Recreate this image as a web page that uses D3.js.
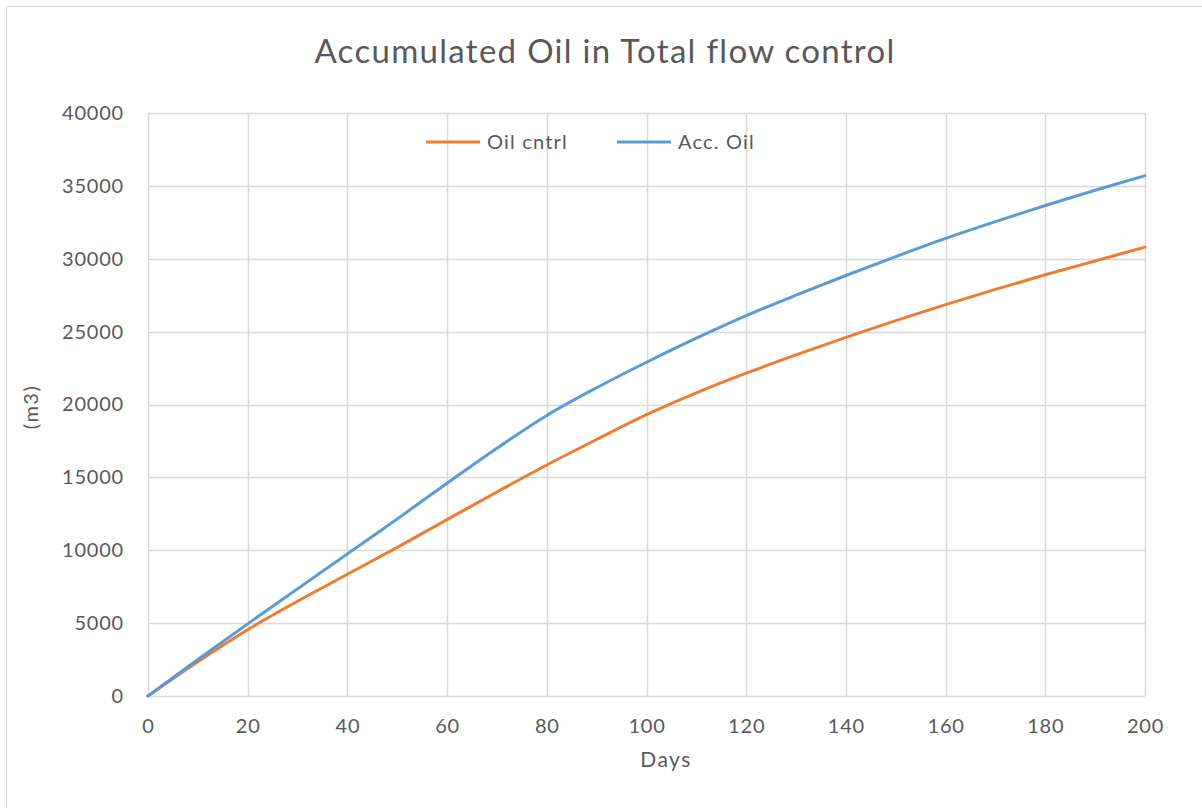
<!DOCTYPE html>
<html>
<head>
<meta charset="utf-8">
<script src="https://cdn.jsdelivr.net/npm/d3@7"></script>
<style>
  body { margin: 0; background: #fff; }
  text { font-family: Lato, "Open Sans", sans-serif; fill: #595959; }
</style>
</head>
<body>
<script>
var days = [0, 10, 20, 30, 40, 50, 60, 70, 80, 90, 100, 110, 120, 130, 140, 150, 160, 170, 180, 190, 200];

var oilCntrl = [0, 2350, 4550, 6500, 8350, 10200, 12100, 14000, 15850, 17600, 19300,
    20800, 22150, 23400, 24600, 25750, 26850, 27900, 28900, 29850, 30800];

var accOil = [0, 2500, 4950, 7350, 9750, 12150, 14600, 17000, 19250, 21150, 22900,
    24550, 26100, 27500, 28850, 30150, 31400, 32550, 33650, 34700, 35700];

var xTicks = [0, 20, 40, 60, 80, 100, 120, 140, 160, 180, 200];
var yTicks = [0, 5000, 10000, 15000, 20000, 25000, 30000, 35000, 40000];

var series = [
    {name: "Oil cntrl", values: oilCntrl, color: "#ED7D31"},
    {name: "Acc. Oil", values: accOil, color: "#5B9BD5"}
];

var margin = {top: 113, right: 57, bottom: 112, left: 148},
    width = 1202 - margin.left - margin.right,
    height = 808 - margin.top - margin.bottom;

var svg = d3.select("body").append("svg")
    .attr("width", 1202)
    .attr("height", 808);

// outer chart border
svg.append("rect")
    .attr("x", 6.5)
    .attr("y", 6.5)
    .attr("width", 1200)
    .attr("height", 806)
    .attr("fill", "none")
    .attr("stroke", "#d9d9d9");

var x = d3.scaleLinear().domain([0, 200]).range([0, width]);
var y = d3.scaleLinear().domain([0, 40000]).range([height, 0]);

var g = svg.append("g")
    .attr("transform", "translate(" + margin.left + "," + margin.top + ")");

// grid
g.append("g")
    .attr("class", "grid")
    .selectAll("line.h")
    .data(yTicks)
    .enter().append("line")
    .attr("x1", 0).attr("x2", width)
    .attr("y1", function(d) { return Math.round(y(d)) + 0.5; })
    .attr("y2", function(d) { return Math.round(y(d)) + 0.5; })
    .attr("stroke", "#d9d9d9")
    .attr("stroke-width", 1.5);

g.append("g")
    .attr("class", "grid")
    .selectAll("line.v")
    .data(xTicks)
    .enter().append("line")
    .attr("y1", 0).attr("y2", height)
    .attr("x1", function(d) { return Math.round(x(d)) + 0.5; })
    .attr("x2", function(d) { return Math.round(x(d)) + 0.5; })
    .attr("stroke", "#d9d9d9")
    .attr("stroke-width", 1.5);

// axes (labels only)
var xAxis = d3.axisBottom(x).tickValues(xTicks).tickSize(0).tickPadding(23);
var yAxis = d3.axisLeft(y).tickValues(yTicks).tickSize(0).tickPadding(24)
    .tickFormat(d3.format("d"));

var gx = g.append("g")
    .attr("class", "x axis")
    .attr("transform", "translate(0," + height + ")")
    .call(xAxis);
gx.select(".domain").remove();
gx.selectAll("text")
    .style("font-size", "20px")
    .style("letter-spacing", "0.8px")
    .attr("fill", "#595959");

var gy = g.append("g")
    .attr("class", "y axis")
    .call(yAxis);
gy.select(".domain").remove();
gy.selectAll("text")
    .style("font-size", "20px")
    .style("letter-spacing", "0.8px")
    .attr("fill", "#595959");

// lines
var line = d3.line()
    .x(function(d, i) { return x(days[i]); })
    .y(function(d) { return y(d); })
    .curve(d3.curveMonotoneX);

g.selectAll("path.series")
    .data(series)
    .enter().append("path")
    .attr("class", "series")
    .attr("fill", "none")
    .attr("stroke", function(d) { return d.color; })
    .attr("stroke-width", 3)
    .attr("stroke-linecap", "round")
    .attr("d", function(d) { return line(d.values); });

// title
svg.append("text")
    .attr("x", 605)
    .attr("y", 63)
    .attr("text-anchor", "middle")
    .style("font-size", "33px")
    .style("letter-spacing", "1.3px")
    .text("Accumulated Oil in Total flow control");

// axis titles
svg.append("text")
    .attr("x", 666)
    .attr("y", 767)
    .attr("text-anchor", "middle")
    .style("font-size", "21px")
    .style("letter-spacing", "1.5px")
    .text("Days");

svg.append("text")
    .attr("transform", "translate(38,407) rotate(-90)")
    .attr("text-anchor", "middle")
    .style("font-size", "20px")
    .style("letter-spacing", "1.5px")
    .text("(m3)");

// legend
var legendX = [426, 617];
var legend = svg.selectAll("g.legend")
    .data(series)
    .enter().append("g")
    .attr("class", "legend")
    .attr("transform", function(d, i) { return "translate(" + legendX[i] + ",142)"; });

legend.append("line")
    .attr("x1", 0).attr("x2", 54)
    .attr("stroke", function(d) { return d.color; })
    .attr("stroke-width", 3);

legend.append("text")
    .attr("x", 61)
    .attr("dy", "0.35em")
    .style("font-size", "20px")
    .style("letter-spacing", "1.2px")
    .text(function(d) { return d.name; });
</script>
</body>
</html>
